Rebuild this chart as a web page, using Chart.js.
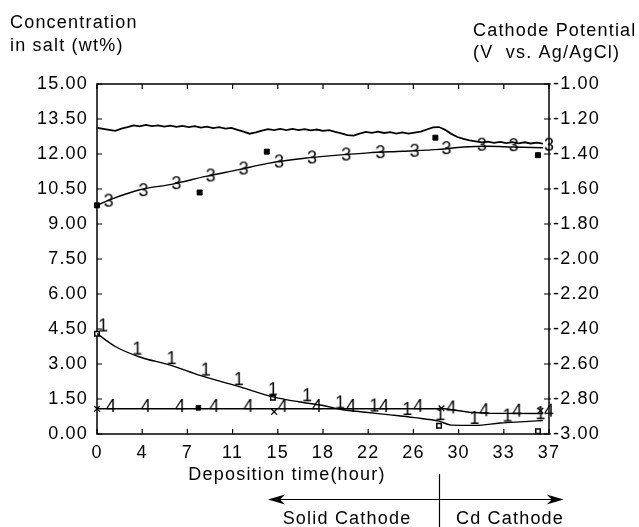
<!DOCTYPE html>
<html><head><meta charset="utf-8">
<script src="https://cdn.jsdelivr.net/npm/chart.js@4.4.1/dist/chart.umd.min.js"></script>
<style>html,body{margin:0;padding:0;background:#fff;}</style>
</head><body>
<canvas id="c" width="639" height="527"></canvas>
<script>
// ---------- data ----------
const xTickLabels = ['0','4','7','11','15','18','22','26','30','33','37'];
const xTickValues = [0,3.7,7.4,11.1,14.8,18.5,22.2,25.9,29.6,33.3,37];
const yLeftTicks = [0,1.5,3,4.5,6,7.5,9,10.5,12,13.5,15];
const yRightTicks = [-3,-2.8,-2.6,-2.4,-2.2,-2,-1.8,-1.6,-1.4,-1.2,-1];

// cathode potential (right axis), every 0.5 h
const potHours = [0,0.5,1,1.5,2,2.5,3,3.5,4,4.5,5,5.5,6,6.5,7,7.5,8,8.5,9,9.5,10,10.5,11,11.5,12,12.5,13,13.5,14,14.5,15,15.5,16,16.5,17,17.5,18,18.5,19,19.5,20,20.5,21,21.5,22,22.5,23,23.5,24,24.5,25,25.5,26,26.5,27,27.5,28,28.5,29,29.5,30,30.5,31,31.5,32,32.5,33,33.5,34,34.5,35,35.5,36,36.5];
const potValues = [-1.250,-1.256,-1.262,-1.268,-1.255,-1.246,-1.236,-1.242,-1.234,-1.241,-1.236,-1.244,-1.238,-1.245,-1.239,-1.246,-1.241,-1.249,-1.244,-1.252,-1.247,-1.255,-1.251,-1.262,-1.272,-1.284,-1.276,-1.266,-1.258,-1.264,-1.257,-1.263,-1.256,-1.263,-1.258,-1.265,-1.260,-1.268,-1.264,-1.274,-1.282,-1.292,-1.295,-1.284,-1.274,-1.279,-1.272,-1.280,-1.275,-1.283,-1.277,-1.284,-1.278,-1.272,-1.260,-1.248,-1.246,-1.262,-1.285,-1.303,-1.314,-1.322,-1.328,-1.334,-1.329,-1.336,-1.331,-1.338,-1.332,-1.339,-1.333,-1.340,-1.335,-1.341];

// curve 3 (fit) and its measured points
const c3Hours = [0,1.35,3.5,6.2,8.9,11.6,14,17,19.7,22.2,25,28,30,32,34,36.5];
const c3Values = [9.8,10.1,10.47,10.71,11.04,11.33,11.6,11.82,11.95,12.05,12.12,12.2,12.3,12.33,12.3,12.27];
const c3PtHours = [0,8.4,13.9,27.7,36.1];
const c3PtValues = [9.8,10.35,12.1,12.7,11.95];
const c3LblHours = [0.95,3.8,6.5,9.3,12.0,14.9,17.6,20.4,23.2,26.0,28.6,31.5,34.1,37.0];
const c3LblValues = [10.0,10.45,10.75,11.08,11.38,11.68,11.85,11.98,12.08,12.14,12.25,12.4,12.38,12.4];

// curve 1 (fit) and its measured points
const c1Hours = [0,1.5,3.5,6,8.5,11.5,14.5,16.5,18.5,20,22,24,26,28,29,31,33,35,36.5];
const c1Values = [4.3,3.75,3.3,2.95,2.5,2.05,1.58,1.38,1.22,1.05,0.93,0.82,0.7,0.55,0.38,0.37,0.47,0.53,0.58];
const c1PtHours = [0,14.4,28.0,36.1];
const c1PtValues = [4.3,1.55,0.35,0.12];
const c1LblHours = [0.5,3.3,6.1,8.9,11.6,14.4,17.2,19.9,22.7,25.4,28.1,30.9,33.6,36.3];
const c1LblValues = [4.65,3.66,3.25,2.76,2.35,1.92,1.66,1.35,1.22,1.07,0.85,0.69,0.79,0.89];

// curve 4 (fit) and its measured points
const c4Hours = [0,28.5,30.5,32,36.5];
const c4Values = [1.08,1.08,0.93,0.89,0.88];
const c4PtHours = [0,14.5,28.2,36.3];
const c4PtValues = [1.08,0.95,1.1,1.0];
const c4SqHours = [8.3];
const c4SqValues = [1.12];
const c4LblHours = [1.15,4.0,6.8,9.6,12.4,15.2,18.0,20.8,23.5,26.3,29.0,31.7,34.4,37.0];
const c4LblValues = [1.2,1.2,1.2,1.2,1.2,1.2,1.2,1.2,1.2,1.2,1.14,1.02,1.0,1.0];

// ---------- helpers ----------
const FONT = '"Liberation Sans", Arial, Helvetica, sans-serif';
const LS = '1.2px';
const pts = (xs, ys) => xs.map((x, i) => ({x: x, y: ys[i]}));
function glyph(ch) {
  const c = document.createElement('canvas');
  c.width = 16; c.height = 22;
  const g = c.getContext('2d');
  g.font = '18px ' + FONT;
  g.fillStyle = '#000';
  g.textAlign = 'center';
  g.textBaseline = 'middle';
  g.fillText(ch, 8, 12);
  return c;
}
const lineDs = (xs, ys, axis, tension, bw) => ({
  type: 'line', data: pts(xs, ys), yAxisID: axis, borderColor: '#000', borderWidth: bw,
  pointRadius: 0, tension: tension, cubicInterpolationMode: tension ? 'monotone' : 'default', fill: false
});
const markDs = (xs, ys, style, radius, bg, bw) => ({
  type: 'scatter', data: pts(xs, ys), yAxisID: 'y', showLine: false, clip: false,
  pointStyle: style, pointRadius: radius, pointBackgroundColor: bg, pointBorderColor: '#000', pointBorderWidth: bw
});

const framePlugin = {
  id: 'frame',
  beforeDraw(chart) {
    chart.ctx.letterSpacing = LS;
  },
  beforeDatasetsDraw(chart) {
    const {ctx, chartArea: a, scales} = chart;
    ctx.save();
    ctx.strokeStyle = '#000';
    ctx.lineWidth = 1.5;
    ctx.strokeRect(a.left, a.top, a.right - a.left, a.bottom - a.top);
    ctx.lineWidth = 1.2;
    ctx.beginPath();
    const tl = 5;
    scales.x.ticks.forEach(t => {
      const px = scales.x.getPixelForValue(t.value);
      ctx.moveTo(px, a.bottom); ctx.lineTo(px, a.bottom - tl);
      ctx.moveTo(px, a.top); ctx.lineTo(px, a.top + tl);
    });
    scales.y.ticks.forEach(t => {
      const py = scales.y.getPixelForValue(t.value);
      ctx.moveTo(a.left, py); ctx.lineTo(a.left + tl, py);
    });
    scales.y1.ticks.forEach(t => {
      const py = scales.y1.getPixelForValue(t.value);
      ctx.moveTo(a.right + 2, py); ctx.lineTo(a.right - tl, py);
    });
    ctx.stroke();
    ctx.restore();
  },
  afterDraw(chart) {
    const {ctx, scales} = chart;
    const xs = scales.x;
    ctx.save();
    ctx.letterSpacing = LS;
    ctx.fillStyle = '#000';
    ctx.strokeStyle = '#000';
    ctx.font = '18px ' + FONT;
    ctx.textBaseline = 'middle';
    ctx.textAlign = 'left';
    ctx.fillText('Concentration', 10, 23);
    ctx.fillText('in salt (wt%)', 10, 46);
    ctx.fillText('Cathode Potential', 473, 31);
    ctx.fillText('(V  vs. Ag/AgCl)', 473, 53);
    ctx.textAlign = 'center';
    ctx.fillText('Deposition time(hour)', 287, 475);
    ctx.fillText('Solid Cathode', 347, 519);
    ctx.fillText('Cd Cathode', 510, 519);
    // divider at the change of cathode
    const dx = Math.round(xs.getPixelForValue(28)) + 0.5;
    ctx.lineWidth = 1.2;
    ctx.beginPath(); ctx.moveTo(dx, 474); ctx.lineTo(dx, 527); ctx.stroke();
    // arrows
    const xl = xs.getPixelForValue(14.0), xr = xs.getPixelForValue(38.2), ay = 499.5;
    ctx.beginPath(); ctx.moveTo(xl + 4, ay); ctx.lineTo(xr - 4, ay); ctx.stroke();
    ctx.beginPath(); ctx.moveTo(xl, ay); ctx.lineTo(xl + 17, ay - 5); ctx.lineTo(xl + 12, ay); ctx.lineTo(xl + 17, ay + 5); ctx.closePath(); ctx.fill();
    ctx.beginPath(); ctx.moveTo(xr, ay); ctx.lineTo(xr - 17, ay - 5); ctx.lineTo(xr - 12, ay); ctx.lineTo(xr - 17, ay + 5); ctx.closePath(); ctx.fill();
    ctx.restore();
  }
};

const tickFont = {family: FONT, size: 18};
new Chart(document.getElementById('c'), {
  data: {
    datasets: [
      lineDs(potHours, potValues, 'y1', 0, 1.8),
      lineDs(c3Hours, c3Values, 'y', 0.4, 1.4),
      lineDs(c1Hours, c1Values, 'y', 0.4, 1.4),
      lineDs(c4Hours, c4Values, 'y', 0, 1.4),
      markDs(c3PtHours, c3PtValues, 'rect', 3.5, '#000', 1),
      markDs(c1PtHours, c1PtValues, 'rect', 3.2, '#fff', 1.5),
      markDs(c4PtHours, c4PtValues, 'crossRot', 4, '#000', 1.3),
      markDs(c4SqHours, c4SqValues, 'rect', 3.2, '#000', 1),
      markDs(c3LblHours, c3LblValues, glyph('3'), 8, '#000', 1),
      markDs(c1LblHours, c1LblValues, glyph('1'), 8, '#000', 1),
      markDs(c4LblHours, c4LblValues, glyph('4'), 8, '#000', 1)
    ]
  },
  options: {
    responsive: false, animation: false, devicePixelRatio: 1,
    layout: {padding: {top: 84, left: 0, right: 0, bottom: 0}},
    plugins: {legend: {display: false}, tooltip: {enabled: false}},
    scales: {
      x: {
        type: 'linear', min: 0, max: 37,
        afterBuildTicks: s => { s.ticks = xTickValues.map(v => ({value: v})); },
        afterFit: s => { s.height = 93; },
        ticks: {callback: (v, i) => xTickLabels[i], font: tickFont, color: '#000', padding: 8, maxRotation: 0, autoSkip: false},
        grid: {display: false, drawTicks: false}, border: {display: false}
      },
      y: {
        position: 'left', min: 0, max: 15,
        afterBuildTicks: s => { s.ticks = yLeftTicks.map(v => ({value: v})); },
        afterFit: s => { s.width = 97; },
        ticks: {callback: v => v.toFixed(2), font: tickFont, color: '#000', padding: 9, autoSkip: false},
        grid: {display: false, drawTicks: false}, border: {display: false}
      },
      y1: {
        position: 'right', min: -3, max: -1,
        afterBuildTicks: s => { s.ticks = yRightTicks.map(v => ({value: v})); },
        afterFit: s => { s.width = 90; },
        ticks: {callback: v => v.toFixed(2), font: tickFont, color: '#000', padding: 4, autoSkip: false},
        grid: {display: false, drawTicks: false}, border: {display: false}
      }
    }
  },
  plugins: [framePlugin]
});
</script>
</body></html>
